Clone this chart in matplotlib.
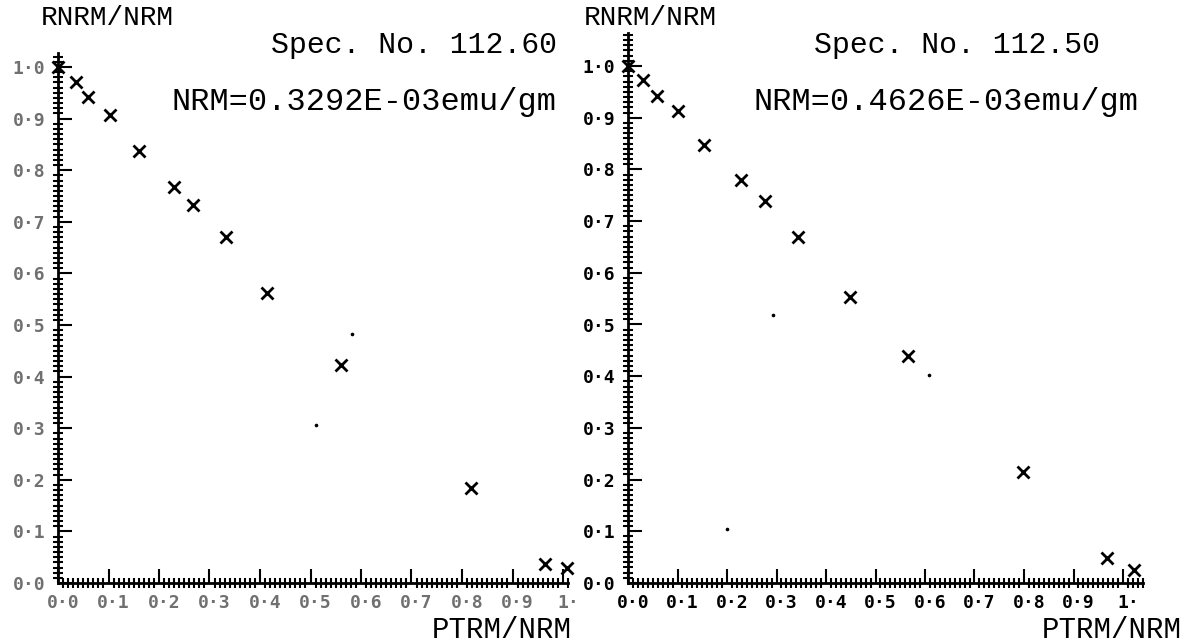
import matplotlib
matplotlib.use("Agg")
import matplotlib.pyplot as plt
import matplotlib.transforms as mtransforms
from matplotlib.ticker import MultipleLocator, FixedLocator

# data (PTRM/NRM vs RNRM/NRM)
ptrm_a = [0.0, 0.036, 0.060, 0.102, 0.161, 0.229, 0.267, 0.333, 0.414, 0.560, 0.817, 0.964, 1.008]
rnrm_a = [1.0, 0.971, 0.942, 0.907, 0.837, 0.767, 0.733, 0.671, 0.562, 0.422, 0.184, 0.037, 0.029]
dots_a_x = [0.582, 0.511]
dots_a_y = [0.483, 0.306]

ptrm_b = [0.0, 0.030, 0.059, 0.100, 0.154, 0.228, 0.276, 0.343, 0.449, 0.565, 0.797, 0.967, 1.022]
rnrm_b = [1.0, 0.973, 0.942, 0.913, 0.847, 0.780, 0.739, 0.669, 0.553, 0.439, 0.215, 0.048, 0.025]
dots_b_x = [0.292, 0.608, 0.200]
dots_b_y = [0.518, 0.402, 0.105]

spec_a = "Spec. No. 112.60"
spec_b = "Spec. No. 112.50"
nrm_a = "NRM=0.3292E-03emu/gm"
nrm_b = "NRM=0.4626E-03emu/gm"

y_ticks = [i / 10 for i in range(11)]
y_labels = ["0·0", "0·1", "0·2", "0·3", "0·4", "0·5", "0·6", "0·7", "0·8", "0·9", "1·0"]
x_ticks = [i / 10 for i in range(11)]
x_labels = ["0·0", "0·1", "0·2", "0·3", "0·4", "0·5", "0·6", "0·7", "0·8", "0·9", "1·"]

W, H = 1190, 642
fig = plt.figure(figsize=(W / 100, H / 100), dpi=100)


def px(x, y):
    return x / W, 1 - y / H


def make_panel(x0, y0, xpu, ypu, xmax, ymax, lab_color):
    # x0,y0 = origin in pixels, xpu/ypu = pixels per unit
    ax = fig.add_axes([x0 / W, 1 - y0 / H, xmax * xpu / W, ymax * ypu / H])
    ax.set_xlim(0, xmax)
    ax.set_ylim(0, ymax)
    ax.spines["top"].set_visible(False)
    ax.spines["right"].set_visible(False)
    ax.spines["left"].set_linewidth(2)
    ax.spines["bottom"].set_linewidth(2)
    ax.xaxis.set_major_locator(FixedLocator(x_ticks))
    ax.yaxis.set_major_locator(FixedLocator(y_ticks))
    ax.xaxis.set_minor_locator(MultipleLocator(0.01))
    ax.yaxis.set_minor_locator(MultipleLocator(0.01))
    ax.set_xticklabels(x_labels)
    ax.set_yticklabels(y_labels)
    ax.tick_params(which="major", direction="in", length=10, width=1.5,
                   labelsize=13, labelcolor=lab_color)
    ax.tick_params(axis="x", which="major", pad=8)
    ax.tick_params(axis="y", which="major", pad=9)
    ax.tick_params(which="minor", direction="inout", length=7, width=1.5)
    shift = mtransforms.ScaledTranslation(5 / 100, 0, fig.dpi_scale_trans)
    for t in ax.get_xticklabels():
        t.set_transform(t.get_transform() + shift)
    for t in ax.get_xticklabels() + ax.get_yticklabels():
        t.set_fontfamily("DejaVu Sans Mono")
        t.set_fontweight("bold")
    ax.patch.set_alpha(0)
    return ax


ax1 = make_panel(58, 583, 505, 516, 1.01, 1.027, "#707070")
ax2 = make_panel(628, 583, 495, 517, 1.04, 1.064, "black")

for ax, xs, ys, dx, dy in [(ax1, ptrm_a, rnrm_a, dots_a_x, dots_a_y),
                           (ax2, ptrm_b, rnrm_b, dots_b_x, dots_b_y)]:
    ax.plot(xs, ys, linestyle="none", marker="x", color="black",
            markersize=9, markeredgewidth=2, clip_on=False)
    ax.plot(dx, dy, linestyle="none", marker="o", color="black",
            markersize=1.6, clip_on=False)

font = "Liberation Mono"
fig.text(*px(107, 18), "RNRM/NRM", ha="center", va="center", fontsize=20, family=font)
fig.text(*px(650, 18), "RNRM/NRM", ha="center", va="center", fontsize=20, family=font)
fig.text(*px(557, 45), spec_a, ha="right", va="center", fontsize=21.5, family=font)
fig.text(*px(1100, 45), spec_b, ha="right", va="center", fontsize=21.5, family=font)
fig.text(*px(557, 102), nrm_a, ha="right", va="center", fontsize=23, family=font)
fig.text(*px(1138, 102), nrm_b, ha="right", va="center", fontsize=23, family=font)
fig.text(*px(572, 630), "PTRM/NRM", ha="right", va="center", fontsize=21, family=font)
fig.text(*px(1182, 630), "PTRM/NRM", ha="right", va="center", fontsize=21, family=font)

fig.savefig("out.png", dpi=100)
